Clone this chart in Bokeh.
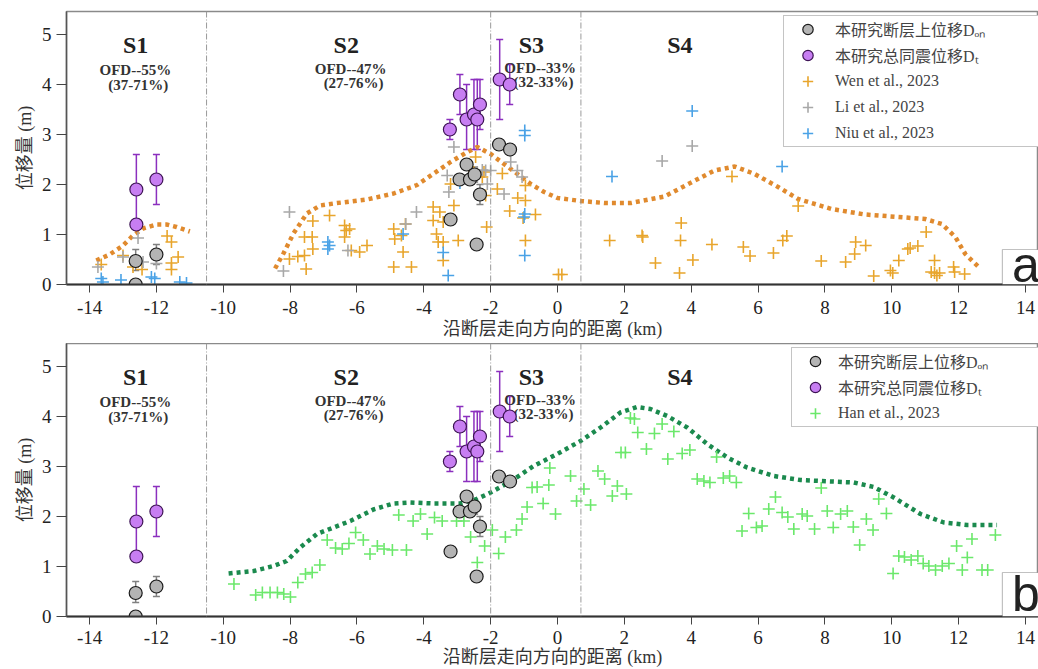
from bokeh.plotting import figure
from bokeh.models import (Range1d, Span, Whisker, TeeHead, ColumnDataSource,
                          Legend, LegendItem, Label, BoxAnnotation, FixedTicker,
                          PrintfTickFormatter)
from bokeh.layouts import column
from bokeh.embed import file_html
from bokeh.resources import INLINE
from bokeh.core.properties import value

# ---------------- data ----------------
# This study: on-fault displacement D_on
don_x = [-12.62, -12.62, -12.0, -3.2, -2.93, -2.72, -2.62, -2.48, -2.42, -2.32, -1.75, -1.42]
don_y = [0.47, 0.0, 0.6, 1.3, 2.1, 2.4, 2.1, 2.2, 0.8, 1.8, 2.8, 2.7]
don_lo = [0.28, None, 0.4, None, None, None, None, 2.05, None, 1.6, None, None]
don_hi = [0.7, None, 0.8, None, None, None, None, 2.35, None, 2.0, None, None]

# This study: total coseismic displacement D_t
dt_x = [-12.6, -12.6, -12.0, -3.22, -2.92, -2.72, -2.5, -2.4, -2.32, -1.73, -1.43]
dt_y = [1.9, 1.2, 2.1, 3.1, 3.8, 3.3, 3.4, 3.3, 3.6, 4.1, 4.0]
dt_lo = [1.2, 1.1, 1.6, 2.9, 3.4, 2.7, 2.7, 2.7, 3.1, 3.3, 3.6]
dt_hi = [2.6, 1.3, 2.6, 3.3, 4.2, 4.0, 4.1, 4.1, 4.1, 4.9, 4.4]

# Wen et al., 2023
wen_x = [-13.65, -13.0, -12.7, -12.43, -11.68, -11.55, -11.35, -11.55, -11.55,
         -8.02, -7.77, -7.57, -7.52, -7.32, -6.82, -7.57, -7.34, -7.32, -6.37, -6.32, -6.22,
         -6.37, -6.17, -5.92, -5.7, -4.9, -4.87, -4.67, -4.62, -4.9, -4.37, -4.55, -3.72,
         -3.52, -3.72, -3.42, -3.1, -3.62, -3.57, -3.42, -3.42, -2.97, -2.12,
         -2.65, -2.45, -2.2, -2.25, -3.2, -2.15, -1.65, -1.8, -0.96, -1.19, -0.96, -1.43,
         -1.03, -0.66, -0.96, 0.03, 0.13, 1.56,
         2.53, 2.55, 2.93, 3.7, 3.68, 3.65, 4.05, 4.62, 5.22, 5.56, 5.76, 6.46, 6.74, 6.86,
         7.2, 7.89, 8.62, 8.89, 8.92, 9.22, 9.46, 9.96, 10.03, 10.21, 10.48, 10.55, 10.78,
         11.03, 11.28, 11.18, 11.28, 11.35, 11.43, 11.85, 11.88, 12.18]
wen_y = [0.4, 0.58, 0.35, 0.3, 0.97, 0.85, 0.55, 0.43, 0.3,
         0.51, 0.56, 0.58, 0.31, 1.27, 1.38, 0.95, 0.95, 0.71, 1.18, 1.08, 1.11,
         0.95, 0.68, 0.65, 0.78, 1.11, 0.91, 0.98, 0.65, 0.35, 0.35, 1.21, 1.55,
         1.45, 1.28, 1.25, 1.58, 1.01, 0.85, 0.85, 0.48, 0.88, 1.15,
         2.35, 2.55, 2.25, 2.15, 2.01, 1.78, 2.22, 1.91, 1.98, 1.73, 1.68, 1.47,
         1.33, 1.4, 0.88, 0.2, 0.2, 0.88,
         0.98, 0.95, 0.43, 1.23, 0.88, 0.23, 0.49, 0.8, 2.16, 0.75, 0.57, 0.63, 0.88, 0.97,
         1.57, 0.47, 0.45, 0.61, 0.85, 0.78, 0.17, 0.28, 0.23, 0.48, 0.71, 0.73, 0.77,
         1.05, 0.48, 0.25, 0.23, 0.18, 0.23, 0.35, 0.25, 0.21]

# Li et al., 2023
li_x = [-13.75, -13.0, -12.55, -12.4, -12.0, -8.2, -8.02, -6.27, -4.54, -4.22, -3.3, -3.25,
        -3.1, -2.45, -2.45, -2.25, -2.15, -2.1, -2.0, -1.6, -1.4, -1.2, -1.06, 3.13, 4.03]
li_y = [0.35, 0.55, 0.93, 0.45, 0.42, 0.27, 1.45, 0.68, 1.21, 1.45, 2.18, 1.85,
        2.75, 3.35, 2.25, 2.29, 2.28, 2.01, 2.28, 1.81, 2.45, 2.28, 2.15, 2.47, 2.77]

# Niu et al., 2023
niu_x = [-13.65, -13.6, -13.06, -12.15, -12.05, -11.3, -11.1, -6.87, -6.82, -6.87, -4.62,
         -3.42, -3.27, -2.92, -0.98, -0.98, -0.98, -1.0, -0.98, 1.63, 4.03, 6.72]
niu_y = [0.12, 0.05, 0.09, 0.15, 0.12, 0.05, 0.03, 0.85, 0.78, 0.71, 1.01,
         0.64, 0.18, 2.03, 3.08, 2.98, 1.41, 1.35, 0.58, 2.16, 3.47, 2.36]

# Han et al., 2023
han_x = [-9.68, -9.03, -8.83, -8.6, -8.38, -8.19, -7.99, -7.77, -7.54, -7.34, -7.11, -6.89,
         -6.64, -6.44, -6.24, -6.04, -5.81, -5.61, -5.39, -5.19, -4.94, -4.52, -4.75, -4.32,
         -4.1, -3.9, -3.68, -3.45, -3.02, -2.8, -2.6, -2.4, -2.18, -1.95, -1.76, -1.56, -1.23,
         -1.06, -0.91, -0.76, -0.61, -0.43, -0.26, -0.23, -0.06, 0.39, 0.57, 0.79, 0.99, 1.21,
         1.41, 1.64, 1.79, 2.06, 1.9, 2.03, 2.18, 2.3, 2.4, 2.66, 2.9, 3.13, 3.48, 3.3, 3.73,
         3.96, 4.18, 4.38, 4.56, 4.76, 4.96, 5.15, 5.35, 5.52, 5.72, 5.95, 6.12, 6.32, 6.52,
         6.72, 6.89, 7.07, 7.32, 7.47, 7.69, 7.89, 8.07, 8.25, 8.47, 8.67, 8.85, 9.04, 9.24,
         9.44, 9.61, 9.84, 10.04, 10.21, 10.38, 10.58, 10.78, 10.94, 11.11, 11.31, 11.51,
         11.71, 11.94, 12.11, 12.26, 12.4, 12.7, 12.87, 13.1]
han_y = [0.65, 0.43, 0.48, 0.48, 0.48, 0.45, 0.39, 0.68, 0.85, 0.88, 1.03, 1.53,
         1.37, 1.35, 1.46, 1.68, 1.53, 1.25, 1.41, 1.35, 1.33, 1.33, 2.03, 1.91,
         2.05, 1.65, 1.98, 1.91, 1.91, 1.91, 1.59, 1.08, 1.41, 1.73, 1.26, 1.59, 1.73,
         1.95, 2.19, 2.58, 2.59, 2.26, 2.63, 2.97, 2.05, 2.81, 2.31, 2.55, 2.23, 2.91,
         2.75, 2.41, 2.61, 2.45, 3.28, 3.28, 3.97, 3.95, 3.68, 3.35, 3.66, 3.85, 3.7, 3.15, 3.26,
         3.33, 2.75, 2.71, 2.68, 3.19, 2.77, 2.81, 2.68, 1.71, 2.06, 1.78, 1.81, 2.15, 2.39,
         2.08, 1.99, 1.75, 2.05, 2.01, 1.75, 2.57, 2.11, 1.78, 2.05, 2.11, 1.79, 1.43, 1.95,
         1.73, 2.35, 2.06, 0.86, 1.21, 1.19, 1.13, 1.21, 1.06, 1.01, 0.93, 1.01,
         1.06, 1.41, 0.93, 1.18, 1.55, 0.93, 0.93, 1.63]

# Envelope curves
env_s1_x = [-13.8, -13.4, -13.0, -12.7, -12.4, -12.0, -11.7, -11.4, -11.0]
env_s1_y = [0.48, 0.6, 0.78, 0.98, 1.12, 1.2, 1.2, 1.15, 1.06]
env_a_x = [-8.45, -8.2, -7.9, -7.5, -7.1, -6.7, -5.7, -4.9, -4.2, -3.7, -3.2, -2.7, -2.4,
           -2.0, -1.6, -1.2, -0.8, -0.4, 0.0, 0.7, 1.4, 2.2, 3.2, 4.2, 4.7, 5.3, 5.9, 6.6,
           7.2, 8.2, 9.2, 10.2, 11.0, 11.5, 11.9, 12.2, 12.6]
env_a_y = [0.32, 0.62, 1.02, 1.42, 1.58, 1.62, 1.7, 1.82, 1.99, 2.22, 2.45, 2.65, 2.75,
           2.61, 2.41, 2.21, 2.01, 1.85, 1.73, 1.67, 1.63, 1.63, 1.76, 2.11, 2.28, 2.36, 2.21,
           1.95, 1.71, 1.51, 1.4, 1.35, 1.31, 1.21, 0.95, 0.61, 0.35]
env_b_x = [-9.84, -9.09, -8.5, -8.1, -7.7, -7.2, -6.7, -6.2, -5.51, -4.91, -4.41, -3.71,
           -2.91, -2.41, -2.0, -1.41, -0.71, -0.01, 0.69, 1.29, 1.88, 2.38, 2.78, 3.28, 3.88,
           4.48, 5.08, 5.67, 6.47, 7.27, 7.87, 8.86, 9.46, 10.06, 10.86, 11.56, 12.26, 13.15]
env_b_y = [0.86, 0.91, 1.01, 1.11, 1.38, 1.65, 1.78, 1.91, 2.14, 2.26, 2.28, 2.26,
           2.26, 2.35, 2.48, 2.7, 3.01, 3.25, 3.51, 3.78, 4.08, 4.19, 4.15, 4.01, 3.78,
           3.45, 3.18, 2.98, 2.81, 2.73, 2.71, 2.68, 2.59, 2.38, 2.05, 1.88, 1.83, 1.83]

# Segments
seg_bounds = [-10.5, -2.0, 0.7]
seg_names = ["S1", "S2", "S3", "S4"]
ofd_main = ["OFD--55%", "OFD--47%", "OFD--33%"]
ofd_range = ["(37-71%)", "(27-76%)", "(32-33%)"]

# ---------------- layout / style ----------------
SERIF = "Liberation Serif"
MIXED = "Liberation Serif, Noto Sans CJK SC"
X_START, X_END = -14.69, 14.39
Y_START, Y_END = 0.0, 5.46

seg_name_x = [-12.62, -6.32, -0.78, 3.66]
seg_name_y = [4.79, 4.79, 4.79, 4.79]
ofd_x = [-12.63, -6.19, -0.52]
ofd_y = [4.3, 4.32, 4.33]
rng_x = [-12.54, -6.1, -0.42]
rng_y = [4.0, 4.03, 4.05]

C_GRAY = "#B4B4B4"
C_PURPLE = "#C77EF2"
C_WEN = "#E8A52C"
C_LI = "#A8A8A8"
C_NIU = "#4AA2E6"
C_HAN = "#6BE86B"
C_ENV_A = "#E08A2E"
C_ENV_B = "#1B8A4E"


def make_panel(height, top, bottom, lab_standoff, ax_standoff):
    p = figure(width=1038, height=height,
               x_range=Range1d(X_START, X_END), y_range=Range1d(Y_START, Y_END),
               output_backend="svg", toolbar_location=None,
               min_border_left=66, min_border_right=0,
               min_border_top=top, min_border_bottom=bottom)
    p.grid.visible = False
    p.outline_line_color = "#8a8a8a"
    p.outline_line_width = 1.5
    p.background_fill_color = "white"

    p.xaxis.ticker = FixedTicker(ticks=list(range(-14, 15, 2)))
    p.yaxis.ticker = FixedTicker(ticks=[0, 1, 2, 3, 4, 5])
    p.xaxis.formatter = PrintfTickFormatter(format="%d")
    p.yaxis.formatter = PrintfTickFormatter(format="%d")
    for ax in (p.xaxis[0], p.yaxis[0]):
        ax.minor_tick_line_color = None
        ax.major_tick_in = 0
        ax.major_label_text_font = SERIF
        ax.major_label_text_font_size = "19px"
        ax.major_label_text_color = "#222222"
        ax.axis_label_text_font = MIXED
        ax.axis_label_text_font_size = "18px"
        ax.axis_label_text_font_style = "normal"
        ax.axis_label_text_color = "#333333"
        ax.major_tick_line_color = "#444444"
    p.xaxis.major_tick_out = 8
    p.xaxis.axis_line_width = 2
    p.xaxis.axis_line_color = "#333333"
    p.xaxis.major_label_standoff = lab_standoff
    p.xaxis.axis_label_standoff = ax_standoff
    p.xaxis.axis_label = "沿断层走向方向的距离 (km)"
    p.yaxis.major_tick_out = 10
    p.yaxis.axis_line_width = 1.5
    p.yaxis.axis_line_color = "#555555"
    p.yaxis.major_label_standoff = 5
    p.yaxis.axis_label_standoff = 4
    p.yaxis.axis_label = "位移量 (m)"

    for b in seg_bounds:
        p.add_layout(Span(location=b, dimension="height", line_color="#9a9a9a",
                          line_width=1, line_dash="6 2 1 2"))

    p.text(x=seg_name_x, y=seg_name_y, text=seg_names, text_font=value(SERIF),
           text_font_style="bold", text_font_size="24px", text_align="center",
           text_baseline="middle", text_color="#222222")
    p.text(x=ofd_x, y=ofd_y, text=ofd_main, text_font=value(SERIF),
           text_font_style="bold", text_font_size="15px", text_align="center",
           text_baseline="middle", text_color="#333333")
    p.text(x=rng_x, y=rng_y, text=ofd_range, text_font=value(SERIF),
           text_font_style="bold", text_font_size="15px", text_align="center",
           text_baseline="middle", text_color="#333333")
    return p


def add_study(p):
    idx = [i for i, v in enumerate(don_lo) if v is not None]
    s_don_err = ColumnDataSource(dict(x=[don_x[i] for i in idx],
                                      lo=[don_lo[i] for i in idx],
                                      hi=[don_hi[i] for i in idx]))
    p.add_layout(Whisker(source=s_don_err, base="x", lower="lo", upper="hi",
                         line_color="#808080", line_width=1.5,
                         upper_head=TeeHead(size=7, line_color="#808080", line_width=1.5),
                         lower_head=TeeHead(size=7, line_color="#808080", line_width=1.5)))
    s_dt_err = ColumnDataSource(dict(x=dt_x, lo=dt_lo, hi=dt_hi))
    p.add_layout(Whisker(source=s_dt_err, base="x", lower="lo", upper="hi",
                         line_color="#8B2FBE", line_width=1.5,
                         upper_head=TeeHead(size=7, line_color="#8B2FBE", line_width=1.5),
                         lower_head=TeeHead(size=7, line_color="#8B2FBE", line_width=1.5)))
    r_don = p.scatter(don_x, don_y, marker="circle", size=13, fill_color=C_GRAY,
                      line_color="#1a1a1a", line_width=1.2)
    r_dt = p.scatter(dt_x, dt_y, marker="circle", size=13, fill_color=C_PURPLE,
                     line_color="#3d1454", line_width=1.2)
    return r_don, r_dt


def add_letter(p, letter, top, ymid):
    p.add_layout(BoxAnnotation(left=13.31, right=15.5, bottom=0, top=top,
                               fill_color="white", fill_alpha=1,
                               line_color="#333333", line_width=1.2))
    p.add_layout(Label(x=13.6, y=ymid, text=letter, text_font="Liberation Sans",
                       text_font_size="50px", text_color="#222222",
                       text_baseline="middle"))


def style_legend(lg, vx, vy):
    lg.location = (vx, vy)
    lg.padding = 0
    lg.spacing = 0
    lg.margin = 0
    lg.glyph_height = 26
    lg.label_height = 26
    lg.label_width = 230
    lg.label_text_font = MIXED
    lg.label_text_font_size = "16px"
    lg.label_text_color = "#444444"
    lg.border_line_color = "#8a8a8a"
    lg.border_line_width = 1
    lg.background_fill_alpha = 1


# ---------------- panel a ----------------
pa = make_panel(343, 11, 59, 8, 2)
pa.line(env_s1_x, env_s1_y, line_color=C_ENV_A, line_width=4.5, line_dash="4 4")
pa.line(env_a_x, env_a_y, line_color=C_ENV_A, line_width=4.5, line_dash="4 4")
r_wen = pa.scatter(wen_x, wen_y, marker="cross", size=12, line_color=C_WEN, line_width=1.6)
r_li = pa.scatter(li_x, li_y, marker="cross", size=12, line_color=C_LI, line_width=1.6)
r_niu = pa.scatter(niu_x, niu_y, marker="cross", size=12, line_color=C_NIU, line_width=1.6)
ra_don, ra_dt = add_study(pa)
add_letter(pa, "a", 0.7, 0.4)
lga = Legend(items=[LegendItem(label="本研究断层上位移Dₒₙ", renderers=[ra_don]),
                    LegendItem(label="本研究总同震位移Dₜ", renderers=[ra_dt]),
                    LegendItem(label="Wen et al., 2023", renderers=[r_wen]),
                    LegendItem(label="Li et al., 2023", renderers=[r_li]),
                    LegendItem(label="Niu et al., 2023", renderers=[r_niu])])
style_legend(lga, 717, 137)
lga.glyph_width = 47
lga.label_standoff = 4
pa.add_layout(lga)

# ---------------- panel b ----------------
pb = make_panel(326, 0, 53, 6, 0)
pb.line(env_b_x, env_b_y, line_color=C_ENV_B, line_width=4.5, line_dash="4 4")
r_han = pb.scatter(han_x, han_y, marker="cross", size=12, line_color=C_HAN, line_width=1.6)
rb_don, rb_dt = add_study(pb)
add_letter(pb, "b", 0.88, 0.46)
lgb = Legend(items=[LegendItem(label="本研究断层上位移Dₒₙ", renderers=[rb_don]),
                    LegendItem(label="本研究总同震位移Dₜ", renderers=[rb_dt]),
                    LegendItem(label="Han et al., 2023", renderers=[r_han])])
style_legend(lgb, 725, 189)
lgb.glyph_width = 46
lgb.label_standoff = 0
pb.add_layout(lgb)

layout = column(pa, pb, spacing=0)
open("out.html", "w").write(file_html(layout, INLINE))
